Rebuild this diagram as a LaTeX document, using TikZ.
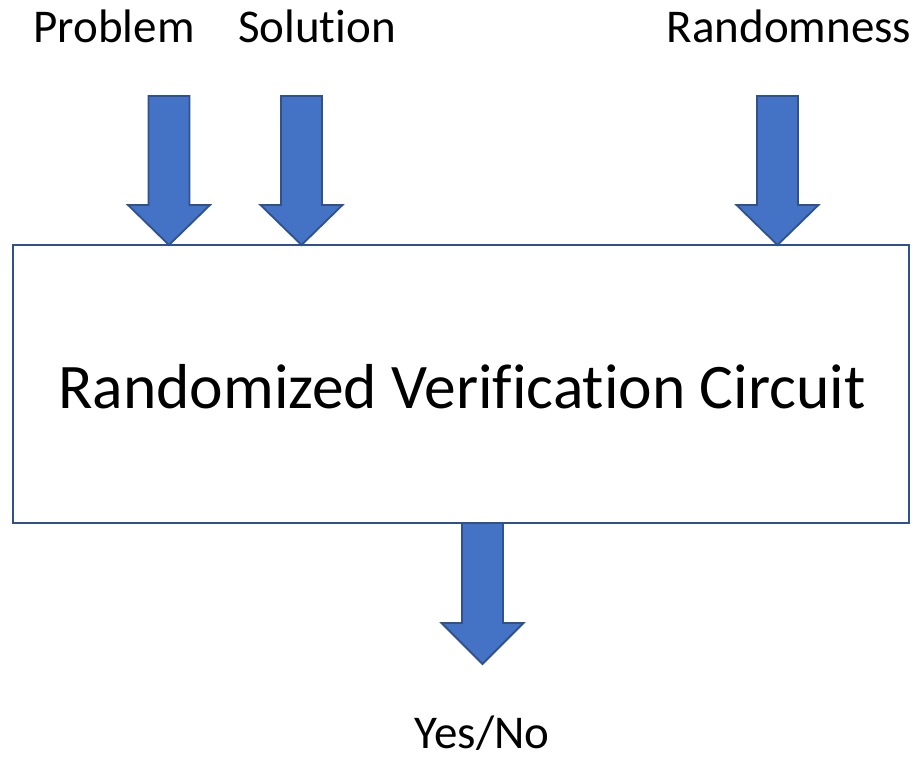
\documentclass[tikz,border=0pt]{standalone}
\usepackage{fontspec}
\setmainfont{Carlito}[Ligatures=CommonOff]
\definecolor{arrfill}{HTML}{4472C4}
\definecolor{arrline}{HTML}{2F528F}
\begin{document}
\begin{tikzpicture}[x=1pt,y=-1pt,
  lbl/.style={anchor=base,inner sep=0pt,font=\fontsize{47}{56}\selectfont},
  mainbox/.style={draw=arrline,line width=2pt,fill=white,minimum width=896.5pt,minimum height=278pt,inner sep=0pt},
  blockarr/.style={fill=arrfill,draw=arrline,line width=1.8pt,line join=miter}]
\useasboundingbox (0,0) rectangle (918,760);
% labels
\node[lbl] (prob) at (114,43) {Problem};
\node[lbl] (sol) at (317,43) {Solution};
\node[lbl] (rand) at (789,43) {Randomness};
\node[lbl] (yn) at (482,748) {Yes/No};
% box
\node[mainbox] (box) at (460.75,383.5) {};
\node[anchor=base,inner sep=0pt,font=\fontsize{63.5}{76}\selectfont] (boxtext) at (462,408) {Randomized Verification Circuit};
% block arrows
\foreach \cx/\yt/\yh/\yp in {169/96/205/245, 301.5/96/205/245, 777.5/96/205/245, 482.5/523/623/664}{
  \draw[blockarr] (\cx-20.5,\yt) -- (\cx+20.5,\yt) -- (\cx+20.5,\yh) -- (\cx+41,\yh) -- (\cx,\yp) -- (\cx-41,\yh) -- (\cx-20.5,\yh) -- cycle;
}
\end{tikzpicture}
\end{document}
